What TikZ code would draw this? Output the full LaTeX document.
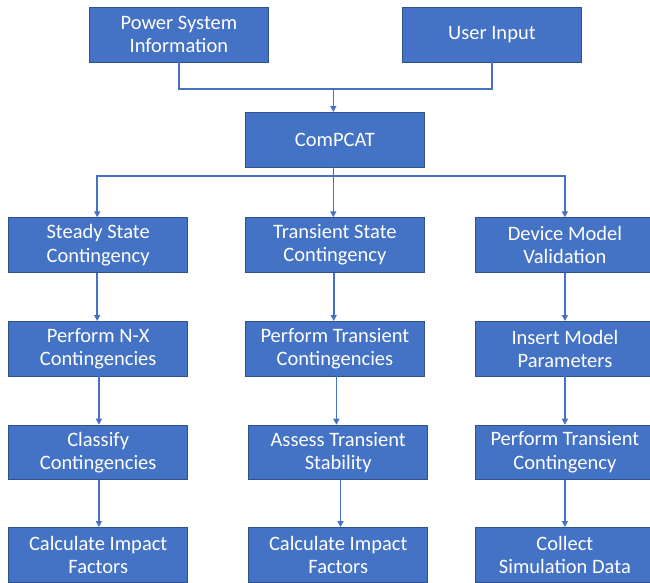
\documentclass[tikz,border=0pt]{standalone}
\usepackage{fontspec}
\setmainfont{Carlito}
\usetikzlibrary{arrows.meta,calc}
\definecolor{boxfill}{HTML}{4472C4}
\definecolor{boxline}{HTML}{2F528F}
\definecolor{linkcol}{HTML}{4472C4}
\begin{document}
\begin{tikzpicture}[x=1pt,y=-1pt,
  stepbox/.style={draw=boxline, fill=boxfill, text=white, line width=0.8pt,
    font=\fontsize{20.5}{23.4}\selectfont, align=center,
    minimum width=179pt, minimum height=54.5pt, inner sep=0pt, anchor=north west},
  link/.style={draw=linkcol, line width=1.6pt},
  arr/.style={link, -{Triangle[length=6pt,width=6pt]}}]
\clip (0,0) rectangle (650,582);
\fill[white] (0,0) rectangle (650,582);
% row 1
\node[stepbox] (psi) at (89,7) {Power System\\Information};
\node[stepbox] (ui) at (402,7) {User Input};
\node[stepbox] (cp) at (245,112) {ComPCAT};
% row 2
\node[stepbox] (ss) at (8.3,217.3) {Steady State\\Contingency};
\node[stepbox] (ts) at (245,217.3) {Transient State\\Contingency};
\node[stepbox] (dm) at (475,217.3) {Device Model\\Validation};
% row 3
\node[stepbox] (nx) at (8.3,321) {Perform N-X\\Contingencies};
\node[stepbox] (pt) at (245,321) {Perform Transient\\Contingencies};
\node[stepbox] (im) at (475,321) {Insert Model\\Parameters};
% row 4
\node[stepbox] (cl) at (8.3,424.7) {Classify\\Contingencies};
\node[stepbox] (as) at (248.3,424.7) {Assess Transient\\Stability};
\node[stepbox] (pc) at (475,424.7) {Perform Transient\\Contingency};
% row 5
\node[stepbox] (c1) at (8.3,527) {Calculate Impact\\Factors};
\node[stepbox] (c2) at (248.3,527) {Calculate Impact\\Factors};
\node[stepbox] (cs) at (475,527) {Collect\\Simulation Data};
% merge
\coordinate (mj) at (333.3,89);
\draw[link] (psi.south) |- (mj);
\draw[link] (ui.south) |- (mj);
\draw[arr] (mj) -- (mj |- cp.north);
% split
\coordinate (sp) at (333.3,175.7);
\draw[link] (sp |- cp.south) -- (sp);
\draw[arr] (sp) -| ([xshift=-1pt]ss.north);
\draw[arr] (sp) -| (dm.north);
\draw[arr] (sp) -- (sp |- ts.north);
% column 1
\draw[arr] ([xshift=-1pt]ss.south) -- ([xshift=-1pt]nx.north);
\draw[arr] ([xshift=0.7pt]nx.south) -- ([xshift=0.7pt]cl.north);
\draw[arr] ([xshift=0.7pt]cl.south) -- ([xshift=0.7pt]c1.north);
% column 2
\draw[arr] ([xshift=-1.2pt]ts.south) -- ([xshift=-1.2pt]pt.north);
\draw[arr] ([xshift=1.5pt]pt.south) -- ([xshift=1.5pt]pt.south |- as.north);
\draw[arr] ([xshift=2.3pt]as.south) -- ([xshift=2.3pt]c2.north);
% column 3
\draw[arr] (dm.south) -- (im.north);
\draw[arr] (im.south) -- (pc.north);
\draw[arr] (pc.south) -- (cs.north);
\end{tikzpicture}
\end{document}
